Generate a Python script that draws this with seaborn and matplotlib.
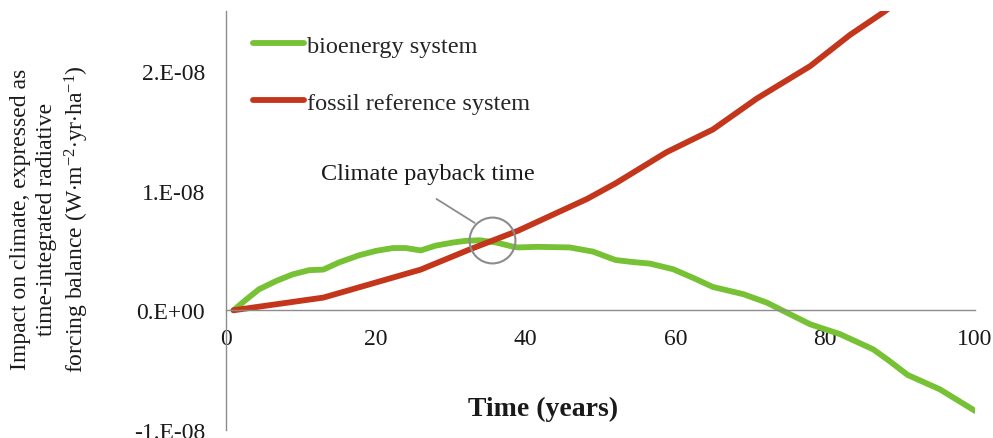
import numpy as np
import pandas as pd
import matplotlib
matplotlib.use("Agg")
import matplotlib.pyplot as plt
import seaborn as sns

# ---- data (values in units of 1e-8) ----
bio_years = [1, 2.7, 4.4, 6.7, 8.9, 11.1, 13, 15.1, 17.8, 20, 22.3, 24, 26, 28, 30.3, 32, 33.9,
             36.1, 38.4, 39, 41.5, 45.9, 49, 52, 54, 56.6, 59.7, 62.4, 65, 69.1, 72.2, 75.3,
             78, 82, 86.4, 88.5, 91, 95.3, 100]
bio_vals = [0.0, 0.09, 0.175, 0.245, 0.30, 0.335, 0.34, 0.40, 0.46, 0.496, 0.52, 0.52, 0.50, 0.54,
            0.566, 0.58, 0.585, 0.566, 0.53, 0.525, 0.53, 0.525, 0.49, 0.42, 0.405, 0.39, 0.343,
            0.27, 0.195, 0.134, 0.064, -0.033, -0.117, -0.20, -0.326, -0.42, -0.54, -0.66, -0.84]
fossil_years = [1, 13, 26, 32.6, 39, 48.2, 52, 58.8, 65, 70.9, 78, 83.3, 87.8, 91, 100]
fossil_vals = [0.0, 0.106, 0.34, 0.51, 0.665, 0.93, 1.06, 1.32, 1.51, 1.77, 2.04, 2.30, 2.49, 2.64, 3.05]
scale = 1e-8
series_names = ["bioenergy system", "fossil reference system"]
x_ticks = [0, 20, 40, 60, 80, 100]
y_ticks = [-1e-8, 0, 1e-8, 2e-8]
y_tick_labels = ["-1.E-08", "0.E+00", "1.E-08", "2.E-08"]

df = pd.concat([
    pd.DataFrame({"Time": bio_years, "Impact": np.array(bio_vals) * scale, "System": series_names[0]}),
    pd.DataFrame({"Time": fossil_years, "Impact": np.array(fossil_vals) * scale, "System": series_names[1]}),
])

sns.set_theme(style="white")
plt.rcParams["font.family"] = ["Liberation Serif", "DejaVu Serif"]
plt.rcParams["mathtext.fontset"] = "custom"
plt.rcParams["mathtext.rm"] = "Liberation Serif"
plt.rcParams["mathtext.it"] = "Liberation Serif:italic"

fig = plt.figure(figsize=(9.93, 4.39), dpi=100)
ax = fig.add_axes([226 / 993, 1 - 431 / 439, (975 - 226) / 993, (431 - 12) / 439])

palette = {series_names[0]: "#77C135", series_names[1]: "#C3361B"}
sns.lineplot(data=df, x="Time", y="Impact", hue="System", palette=palette,
             linewidth=4.2, ax=ax, sort=True, legend=True)
for ln in ax.lines:
    ln.set_solid_capstyle("round")
    ln.set_solid_joinstyle("round")

ax.set_xlim(0, 100)
ax.set_ylim(-1e-8, 2.5e-8)
ax.set_xticks(x_ticks)
ax.set_xticklabels([str(t) for t in x_ticks])
ax.set_yticks(y_ticks)
ax.set_yticklabels(y_tick_labels)

for s in ["top", "right"]:
    ax.spines[s].set_visible(False)
ax.spines["bottom"].set_position(("data", 0))
for s in ["left", "bottom"]:
    ax.spines[s].set_color("#8c8c8c")
    ax.spines[s].set_linewidth(1.0)
ax.tick_params(axis="both", which="major", direction="out", length=5, width=1.0,
               color="#8c8c8c", labelsize=17, labelcolor="#1a1a1a")
ax.tick_params(axis="x", pad=8)
ax.tick_params(axis="y", pad=10)

ax.set_xlabel("")
ax.set_ylabel("")
ax.text(42.3, -0.82e-8, "Time (years)", ha="center", va="center",
        fontsize=20, fontweight="bold", color="#1a1a1a")

fig.text(0.051, 0.5,
         "Impact on climate, expressed as\ntime-integrated radiative\n"
         r"forcing balance (W$\cdot$m$^{-2}$$\cdot$yr$\cdot$ha$^{-1}$)",
         rotation=90, ha="center", va="center", fontsize=17, color="#1a1a1a",
         linespacing=1.3, multialignment="center")

# annotation: climate payback time
ax.plot([35.5], [0.588e-8], marker="o", markersize=33, markerfacecolor="none",
        markeredgecolor="#8c8c8c", markeredgewidth=1.5, linestyle="none")
ax.plot([28.1, 33.2], [0.93e-8, 0.73e-8], color="#8c8c8c", linewidth=1.3)
ax.text(27.0, 1.14e-8, "Climate payback time", ha="center", va="center",
        fontsize=17.5, color="#1a1a1a")

leg = ax.legend(loc="upper left", bbox_to_anchor=(0.0235, 0.967), frameon=False,
                fontsize=17.5, handlelength=2.1, handletextpad=0.1,
                labelspacing=1.45, borderaxespad=0.0)
for h in leg.get_lines():
    h.set_linewidth(4.2)
    h.set_solid_capstyle("round")

fig.savefig("out.png", dpi=100)
